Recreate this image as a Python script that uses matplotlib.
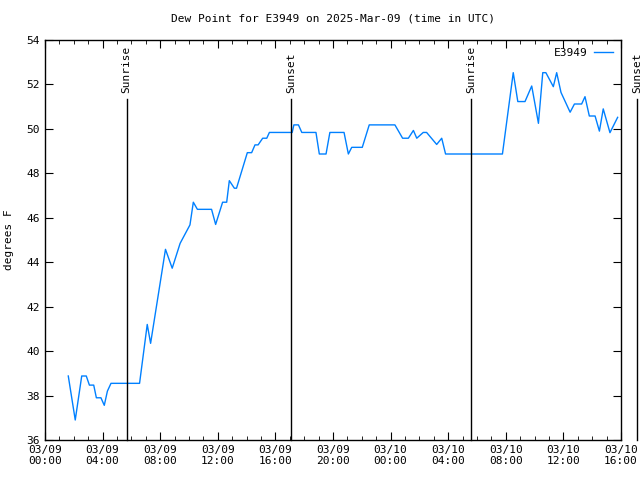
import matplotlib
matplotlib.use("Agg")
import matplotlib.pyplot as plt
import matplotlib.dates as mdates
import matplotlib.transforms as mtransforms
import pandas as pd

times = [
    "2025-03-09 01:37", "2025-03-09 02:06", "2025-03-09 02:33", "2025-03-09 02:52",
    "2025-03-09 03:05", "2025-03-09 03:23", "2025-03-09 03:34", "2025-03-09 03:53",
    "2025-03-09 04:07", "2025-03-09 04:20", "2025-03-09 04:35", "2025-03-09 06:34",
    "2025-03-09 07:06", "2025-03-09 07:20", "2025-03-09 08:22", "2025-03-09 08:50",
    "2025-03-09 09:23", "2025-03-09 10:04", "2025-03-09 10:18", "2025-03-09 10:35",
    "2025-03-09 11:34", "2025-03-09 11:51", "2025-03-09 12:20", "2025-03-09 12:37",
    "2025-03-09 12:48", "2025-03-09 13:09", "2025-03-09 13:18", "2025-03-09 14:03",
    "2025-03-09 14:21", "2025-03-09 14:35", "2025-03-09 14:48", "2025-03-09 15:07",
    "2025-03-09 15:24", "2025-03-09 15:35", "2025-03-09 17:10", "2025-03-09 17:17",
    "2025-03-09 17:36", "2025-03-09 17:50", "2025-03-09 18:49", "2025-03-09 19:03",
    "2025-03-09 19:31", "2025-03-09 19:47", "2025-03-09 20:46", "2025-03-09 21:04",
    "2025-03-09 21:18", "2025-03-09 22:02", "2025-03-09 22:31", "2025-03-10 00:18",
    "2025-03-10 00:50", "2025-03-10 01:14", "2025-03-10 01:35", "2025-03-10 01:49",
    "2025-03-10 02:16", "2025-03-10 02:30", "2025-03-10 03:12", "2025-03-10 03:33",
    "2025-03-10 03:49", "2025-03-10 07:46", "2025-03-10 08:31", "2025-03-10 08:50",
    "2025-03-10 09:20", "2025-03-10 09:48", "2025-03-10 10:16", "2025-03-10 10:34",
    "2025-03-10 10:47", "2025-03-10 11:18", "2025-03-10 11:32", "2025-03-10 11:50",
    "2025-03-10 12:28", "2025-03-10 12:46", "2025-03-10 13:16", "2025-03-10 13:30",
    "2025-03-10 13:48", "2025-03-10 14:12", "2025-03-10 14:30", "2025-03-10 14:46",
    "2025-03-10 15:14", "2025-03-10 15:46",
]
dewpoint = [
    38.88, 36.90, 38.88, 38.88, 38.47, 38.47, 37.90, 37.90, 37.56, 38.20, 38.55, 38.55,
    41.20, 40.35, 44.58, 43.73, 44.85, 45.68, 46.70, 46.38, 46.38, 45.70, 46.70, 46.70,
    47.67, 47.33, 47.33, 48.93, 48.93, 49.28, 49.28, 49.58, 49.58, 49.84, 49.84, 50.18,
    50.18, 49.84, 49.84, 48.87, 48.87, 49.84, 49.84, 48.87, 49.17, 49.17, 50.18, 50.18,
    49.58, 49.58, 49.93, 49.58, 49.84, 49.84, 49.30, 49.58, 48.87, 48.87, 52.53, 51.23,
    51.23, 51.93, 50.25, 52.53, 52.53, 51.90, 52.53, 51.64, 50.75, 51.12, 51.12, 51.45,
    50.58, 50.58, 49.90, 50.90, 49.83, 50.52,
]
events = ["Sunrise", "Sunset", "Sunrise", "Sunset"]
event_times = ["2025-03-09 05:40", "2025-03-09 17:07", "2025-03-10 05:37", "2025-03-10 17:07"]

t = pd.to_datetime(times)
et = pd.to_datetime(event_times)

plt.rcParams['font.family'] = ['DejaVu Sans Mono', 'DejaVu Sans']
fig = plt.figure(figsize=(6.4, 4.8), dpi=100)
ax = fig.add_axes([45/640, 40/480, 576/640, 400/480])

ax.plot(t, dewpoint, color='#0080ff', lw=1.0, label='E3949')

trans = mtransforms.blended_transform_factory(ax.transData, ax.transAxes)
for name, x in zip(events, et):
    xd = mdates.date2num(x)
    ax.plot([xd, xd], [0, 0.8525], color='black', lw=1.0, transform=trans, clip_on=False)
    ax.text(xd, 0.8675, name, rotation=90, ha='center', va='bottom', fontsize=8,
            transform=trans, clip_on=False)

ax.set_xlim(pd.Timestamp("2025-03-09 00:00"), pd.Timestamp("2025-03-10 16:00"))
ax.set_ylim(36, 54)
ax.set_yticks(range(36, 55, 2))
ax.xaxis.set_major_locator(mdates.HourLocator(byhour=range(0, 24, 4)))
ax.xaxis.set_minor_locator(mdates.HourLocator())
ax.xaxis.set_major_formatter(mdates.DateFormatter("%m/%d\n%H:%M"))
ax.tick_params(axis='both', which='both', direction='in', top=True, right=True, labelsize=8)
ax.tick_params(axis='both', which='major', length=6)
ax.tick_params(axis='x', which='minor', length=3)
for s in ax.spines.values():
    s.set_linewidth(1.0)

ax.set_title("Dew Point for E3949 on 2025-Mar-09 (time in UTC)", fontsize=8, pad=13)
ax.set_ylabel("degrees F", fontsize=8, labelpad=9)
ax.legend(loc='upper right', frameon=False, fontsize=8, handlelength=1.7,
          borderaxespad=0.3, handletextpad=0.6, markerfirst=False)

fig.savefig("out.png", dpi=100)
